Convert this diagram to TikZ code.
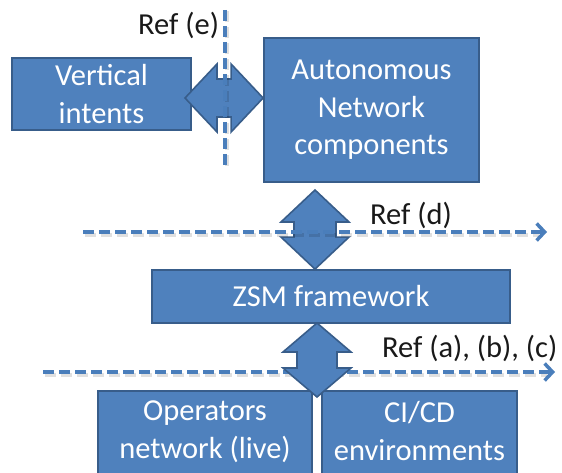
\documentclass[tikz,border=0pt]{standalone}
\usepackage{fontspec}
\setmainfont{Carlito}
\usetikzlibrary{arrows.meta,calc}
\definecolor{boxblue}{HTML}{4F81BD}
\definecolor{boxedge}{HTML}{385D8A}
\definecolor{refblue}{HTML}{4A7EBB}

% double-headed block arrow, horizontal: tips #1 (left) and #2 (right),
% head half-height #3, shaft half-height #4, head length #5
\newcommand\hdblarrow[5]{%
  \draw[blockarrow] (#1) -- ([shift={(#5,-#3)}]#1) -- ([shift={(#5,-#4)}]#1)
    -- ([shift={(-#5,-#4)}]#2) -- ([shift={(-#5,-#3)}]#2) -- (#2)
    -- ([shift={(-#5,#3)}]#2) -- ([shift={(-#5,#4)}]#2)
    -- ([shift={(#5,#4)}]#1) -- ([shift={(#5,#3)}]#1) -- cycle;}
% the same, vertical: tips #1 (top) and #2 (bottom)
\newcommand\vdblarrow[5]{%
  \draw[blockarrow] (#1) -- ([shift={(#3,#5)}]#1) -- ([shift={(#4,#5)}]#1)
    -- ([shift={(#4,-#5)}]#2) -- ([shift={(#3,-#5)}]#2) -- (#2)
    -- ([shift={(-#3,-#5)}]#2) -- ([shift={(-#4,-#5)}]#2)
    -- ([shift={(-#4,#5)}]#1) -- ([shift={(-#3,#5)}]#1) -- cycle;}

\begin{document}
\begin{tikzpicture}[x=1pt,y=-1pt,
  box/.style={rectangle, draw=boxedge, fill=boxblue, line width=1.8pt, inner sep=0pt},
  boxtext/.style={text=white, font=\fontsize{30.5}{37.5}\selectfont, align=center, inner sep=0pt},
  blockarrow/.style={draw=boxedge, fill=boxblue, line width=1.6pt, line join=miter},
  refline/.style={draw=refblue, line width=3.5pt, dash pattern=on 11pt off 5pt},
  refshadow/.style={draw=black, opacity=.12, line width=3.5pt, dash pattern=on 11pt off 5pt},
  reftip/.style={-{Straight Barb[length=8pt,width=17pt]}},
  reflabel/.style={font=\fontsize{30.5}{36}\selectfont, text=black!90, inner sep=0pt, anchor=base west}]

\useasboundingbox (0,0) rectangle (562,473);
\clip (0,0) rectangle (562,473);

% boxes
\node[box, boxtext, minimum width=179pt, minimum height=72pt] (vi) at (101.5,94) {Vertical\\intents};
\node[box, boxtext, minimum width=215pt, minimum height=144pt] (an) at (371.5,110) {Autonomous\\Network\\components};
\node[box, boxtext, minimum width=358pt, minimum height=53pt] (zsm) at (331,296.5) {ZSM framework};
\node[box, minimum width=214pt, minimum height=100pt] (op) at (205,441) {};
\node[box, minimum width=195pt, minimum height=100pt] (ci) at (419.5,441) {};
% the base anchor of a two-line node sits on its last line
\node[boxtext, anchor=base] (optext) at (205,458) {Operators\\network (live)};
\node[boxtext, anchor=base] (citext) at (419.5,460) {CI/CD\\environments};

% reference points (a), (b), (c)
\coordinate (abcL) at (43,372);
\coordinate (abcR) at (555,372);
\draw[refshadow] ([shift={(1.5,3)}]abcL) -- ([shift={(-8,3)}]abcR);
\draw[refline, reftip] (abcL) -- (abcR);

% block arrows between the layers
\coordinate (eL) at (185,98);
\coordinate (eR) at (an.west |- eL);
\hdblarrow{eL}{eR}{34}{19}{32}
\coordinate (dT) at (315,190);
\coordinate (dB) at (dT |- zsm.north);
\vdblarrow{dT}{dB}{34}{21}{32}
\coordinate (cT) at (317,323);
\coordinate (cB) at (317,397);
\vdblarrow{cT}{cB}{34}{20}{29}

% reference point (d)
\coordinate (dL) at (83,232);
\coordinate (dR) at (547,232);
\draw[refshadow] ([shift={(1.5,3)}]dL) -- ([shift={(-8,3)}]dR);
\draw[refline, reftip] (dL) -- (dR);

% reference point (e)
\coordinate (eTop) at (225,10);
\coordinate (eBot) at (225,170);
\draw[refshadow] ([shift={(2,1.5)}]eTop) -- ([shift={(2,1.5)}]eBot);
\draw[refline] (eTop) -- (eBot);

% labels
\node[reflabel] (lbe) at (138,35) {Ref (e)};
\node[reflabel] (lbd) at (370,225) {Ref (d)};
\node[reflabel] (lbabc) at (382,357) {Ref (a), (b), (c)};
\end{tikzpicture}
\end{document}
